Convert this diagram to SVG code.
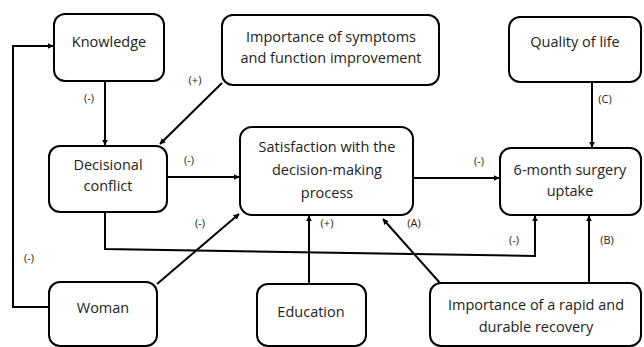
<svg xmlns="http://www.w3.org/2000/svg" width="644" height="347" viewBox="0 0 644 347">
<defs>
<marker id="ah" viewBox="0 0 10 10" refX="9" refY="5" markerWidth="6" markerHeight="6" orient="auto" markerUnits="userSpaceOnUse">
<path d="M0,0 L10,5 L0,10 z" fill="#000"/>
</marker>
<style>
.box{fill:#fff;stroke:#000;stroke-width:2}
.t{font-family:"Open Sans","DejaVu Sans",sans-serif;font-size:14.5px;fill:#222;text-anchor:middle}
.l{font-family:"Open Sans","DejaVu Sans",sans-serif;font-size:11px;fill:#222;text-anchor:middle}
.c{fill:none;stroke:#000;stroke-width:2;marker-end:url(#ah)}
</style>
</defs>
<rect width="644" height="347" fill="#fff"/>
<g id="connectors">
<polyline class="c" points="49,307 13,307 13,46 53,46"/>
<line class="c" x1="105" y1="81" x2="105" y2="145"/>
<line class="c" x1="222" y1="83" x2="160" y2="144"/>
<line class="c" x1="167" y1="177" x2="239" y2="177"/>
<polyline class="c" points="105,212 105,249 535,256 535,216"/>
<line class="c" x1="157" y1="284" x2="239" y2="214"/>
<line class="c" x1="309" y1="284" x2="309" y2="216"/>
<line class="c" x1="440" y1="283" x2="383" y2="219"/>
<line class="c" x1="589" y1="283" x2="589" y2="216"/>
<line class="c" x1="413" y1="178" x2="499" y2="178"/>
<line class="c" x1="592" y1="82" x2="592" y2="147"/>
<text class="l" x="89" y="102">(-)</text>
<text class="l" x="195" y="84">(+)</text>
<text class="l" x="189" y="164">(-)</text>
<text class="l" x="605" y="103">(C)</text>
<text class="l" x="479" y="165">(-)</text>
<text class="l" x="29" y="262">(-)</text>
<text class="l" x="200" y="227">(-)</text>
<text class="l" x="327" y="227">(+)</text>
<text class="l" x="414" y="227">(A)</text>
<text class="l" x="514" y="244">(-)</text>
<text class="l" x="607" y="244">(B)</text>
</g>
<g id="knowledge"><rect class="box" x="54" y="14" width="110" height="67" rx="11"/><text class="t" x="109" y="47">Knowledge</text></g>
<g id="symptoms"><rect class="box" x="222" y="15" width="217" height="70" rx="11"/><text class="t" x="331" y="42">Importance of symptoms</text><text class="t" x="331" y="63">and function improvement</text></g>
<g id="quality"><rect class="box" x="509" y="17" width="132" height="65" rx="11"/><text class="t" x="575" y="47">Quality of life</text></g>
<g id="decisional"><rect class="box" x="49" y="146" width="118" height="66" rx="11"/><text class="t" x="108" y="170">Decisional</text><text class="t" x="108" y="191">conflict</text></g>
<g id="satisfaction"><rect class="box" x="240" y="127" width="173" height="88" rx="12"/><text class="t" x="327" y="152">Satisfaction with the</text><text class="t" x="327" y="175">decision-making</text><text class="t" x="327" y="198">process</text></g>
<g id="uptake"><rect class="box" x="500" y="148" width="141" height="67" rx="11"/><text class="t" x="570" y="175">6-month surgery</text><text class="t" x="570" y="196">uptake</text></g>
<g id="woman"><rect class="box" x="49" y="282" width="108" height="64" rx="11"/><text class="t" x="103" y="313">Woman</text></g>
<g id="education"><rect class="box" x="257" y="284" width="109" height="62" rx="11"/><text class="t" x="311" y="317">Education</text></g>
<g id="recovery"><rect class="box" x="430" y="283" width="211" height="63" rx="11"/><text class="t" x="536" y="310">Importance of a rapid and</text><text class="t" x="536" y="332">durable recovery</text></g>
</svg>
